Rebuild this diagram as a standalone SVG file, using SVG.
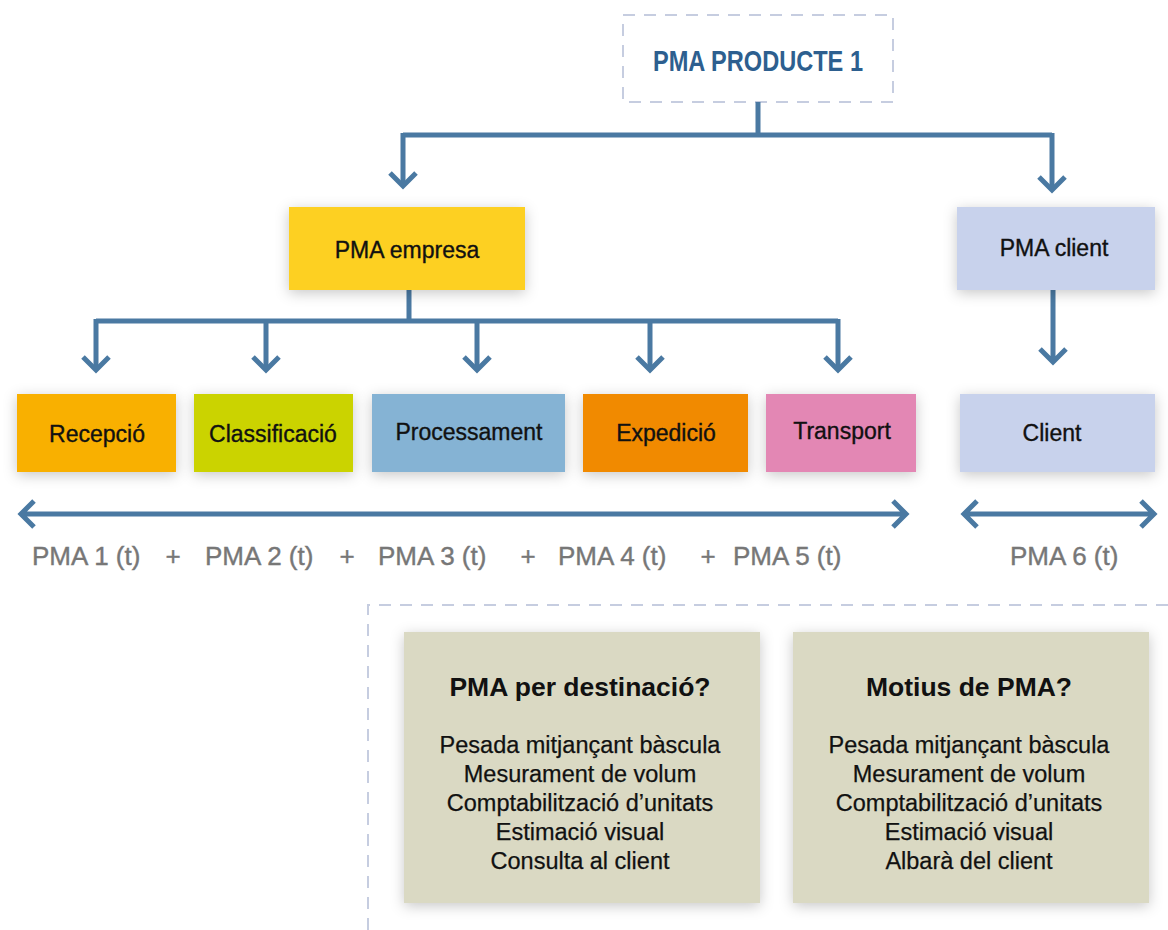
<svg xmlns="http://www.w3.org/2000/svg" width="1168" height="930" viewBox="0 0 1168 930">
<style>
.node{font-family:"Liberation Sans",Arial,sans-serif;font-size:23px;fill:#111;stroke:#111;stroke-width:0.35;text-anchor:middle}
.lbl{font-family:"Liberation Sans",Arial,sans-serif;font-size:26px;fill:#777;stroke:#777;stroke-width:0.4}
.ttl{font-family:"Liberation Sans",Arial,sans-serif;font-size:26.5px;font-weight:bold;fill:#111;text-anchor:middle}
.body{font-family:"Liberation Sans",Arial,sans-serif;font-size:23.5px;fill:#111;stroke:#111;stroke-width:0.25;text-anchor:middle}
.con{fill:none;stroke:#4a79a2;stroke-width:5}
.dash{fill:none;stroke:#c6cde0;stroke-width:2;stroke-dasharray:12 9}
</style>
<defs>
<filter id="sh" x="-20%" y="-30%" width="140%" height="160%">
<feDropShadow dx="0" dy="3" stdDeviation="7" flood-color="#000" flood-opacity="0.22"/>
</filter>
</defs>
<rect width="1168" height="930" fill="#fff"/>

<g id="top">
<rect x="623" y="15" width="270" height="87" class="dash"/>
<text x="758" y="71" font-family="'Liberation Sans Narrow','Liberation Sans',Arial,sans-serif" font-size="30" font-weight="bold" fill="#2d5f8f" text-anchor="middle" textLength="210" lengthAdjust="spacingAndGlyphs">PMA PRODUCTE 1</text>
</g>

<g id="connectors">
<path class="con" d="M758,102 V135 M403,135 H1052 M403,133 V186 M1052,133 V190"/>
<path class="con" d="M390,173 L403,186 L416,173 M1039,177 L1052,190 L1065,177"/>
<path class="con" d="M409,290 V321 M96,321 H838 M96,319 V370 M266,319 V370 M477,319 V370 M650,319 V370 M838,319 V370"/>
<path class="con" d="M83,357 L96,370 L109,357 M253,357 L266,370 L279,357 M464,357 L477,370 L490,357 M637,357 L650,370 L663,357 M825,357 L838,370 L851,357"/>
<path class="con" d="M1053,290 V362 M1040,349 L1053,362 L1066,349"/>
<path class="con" d="M22,514 H905 M34,501 L21,514 L34,527 M893,501 L906,514 L893,527"/>
<path class="con" d="M964,514 H1153 M977,501 L964,514 L977,527 M1141,501 L1154,514 L1141,527"/>
</g>

<g id="pma-empresa">
<rect x="289" y="207" width="236" height="83" fill="#fdd023" filter="url(#sh)"/>
<text x="407" y="258" class="node">PMA empresa</text>
</g>
<g id="pma-client">
<rect x="957" y="207" width="198" height="83" fill="#c8d2ec" filter="url(#sh)"/>
<text x="1054" y="256" class="node">PMA client</text>
</g>

<g id="recepcio">
<rect x="17" y="394" width="159" height="78" fill="#f9b000" filter="url(#sh)"/>
<text x="97" y="442" class="node">Recepció</text>
</g>
<g id="classificacio">
<rect x="194" y="394" width="159" height="78" fill="#cbd300" filter="url(#sh)"/>
<text x="273" y="442" class="node">Classificació</text>
</g>
<g id="processament">
<rect x="372" y="394" width="193" height="78" fill="#85b3d4" filter="url(#sh)"/>
<text x="469" y="440" class="node">Processament</text>
</g>
<g id="expedicio">
<rect x="583" y="394" width="165" height="78" fill="#f18a00" filter="url(#sh)"/>
<text x="666" y="441" class="node">Expedició</text>
</g>
<g id="transport">
<rect x="766" y="394" width="150" height="78" fill="#e387b4" filter="url(#sh)"/>
<text x="842" y="439" class="node">Transport</text>
</g>
<g id="client">
<rect x="960" y="394" width="195" height="78" fill="#c8d2ec" filter="url(#sh)"/>
<text x="1052" y="441" class="node">Client</text>
</g>

<g id="labels">
<text x="32" y="565" class="lbl">PMA 1 (t)</text>
<text x="173" y="565" class="lbl" text-anchor="middle">+</text>
<text x="205" y="565" class="lbl">PMA 2 (t)</text>
<text x="347" y="565" class="lbl" text-anchor="middle">+</text>
<text x="378" y="565" class="lbl">PMA 3 (t)</text>
<text x="528" y="565" class="lbl" text-anchor="middle">+</text>
<text x="558" y="565" class="lbl">PMA 4 (t)</text>
<text x="708" y="565" class="lbl" text-anchor="middle">+</text>
<text x="733" y="565" class="lbl">PMA 5 (t)</text>
<text x="1010" y="565" class="lbl">PMA 6 (t)</text>
</g>

<g id="region">
<path class="dash" d="M368,930 V605 H1168"/>
</g>

<g id="destinacio">
<rect x="404" y="632" width="356" height="271" fill="#dad9c3" filter="url(#sh)"/>
<text x="580" y="696" class="ttl">PMA per destinació?</text>
<text x="580" y="753" class="body">Pesada mitjançant bàscula</text>
<text x="580" y="782" class="body">Mesurament de volum</text>
<text x="580" y="811" class="body">Comptabilització d’unitats</text>
<text x="580" y="840" class="body">Estimació visual</text>
<text x="580" y="869" class="body">Consulta al client</text>
</g>
<g id="motius">
<rect x="793" y="632" width="356" height="271" fill="#dad9c3" filter="url(#sh)"/>
<text x="969" y="696" class="ttl">Motius de PMA?</text>
<text x="969" y="753" class="body">Pesada mitjançant bàscula</text>
<text x="969" y="782" class="body">Mesurament de volum</text>
<text x="969" y="811" class="body">Comptabilització d’unitats</text>
<text x="969" y="840" class="body">Estimació visual</text>
<text x="969" y="869" class="body">Albarà del client</text>
</g>
</svg>
